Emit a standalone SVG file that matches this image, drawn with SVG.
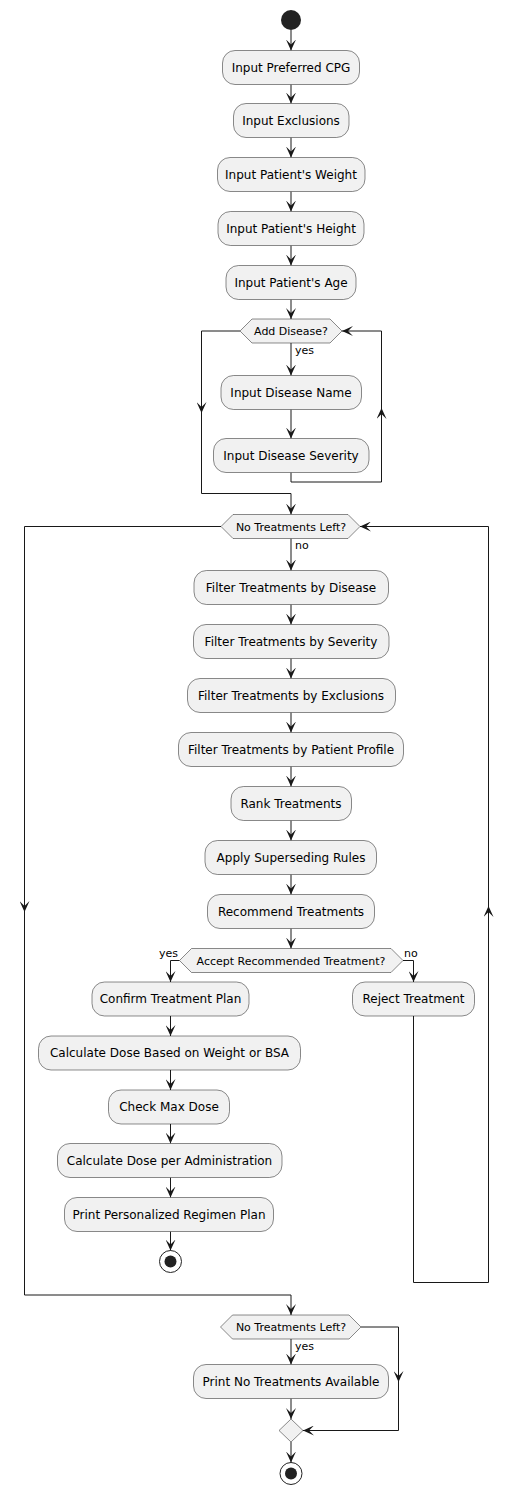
<svg xmlns="http://www.w3.org/2000/svg" width="513" height="1494" viewBox="0 0 513 1494">
<defs>
<style>
.box{fill:#F1F1F1;stroke:#181818;stroke-width:0.5}
.hex{fill:#F1F1F1;stroke:#181818;stroke-width:0.5}
.t{font-family:"DejaVu Sans",Verdana,sans-serif;font-size:12px;fill:#000;text-anchor:middle}
.ht{font-family:"DejaVu Sans",Verdana,sans-serif;font-size:11px;fill:#000;text-anchor:middle}
.lt{font-family:"DejaVu Sans",Verdana,sans-serif;font-size:11px;fill:#000}
.c{fill:none;stroke:#181818;stroke-width:1}
</style>
<marker id="ah" markerUnits="userSpaceOnUse" markerWidth="11" markerHeight="10" refX="11" refY="5" orient="auto">
<path d="M0,0 L11,5 L0,10 L5,5 Z" fill="#181818"/>
</marker>
</defs>
<rect width="513" height="1494" fill="#FFFFFF"/>
<g id="connectors">
<path class="c" d="M291,30 L291,50.5" marker-end="url(#ah)"/>
<path class="c" d="M291,84.5 L291,103.5" marker-end="url(#ah)"/>
<path class="c" d="M291,137.5 L291,157.5" marker-end="url(#ah)"/>
<path class="c" d="M291,191.5 L291,211.5" marker-end="url(#ah)"/>
<path class="c" d="M291,245.5 L291,265.5" marker-end="url(#ah)"/>
<path class="c" d="M291,299.5 L291,319" marker-end="url(#ah)"/>
<path class="c" d="M291,343 L291,375.5" marker-end="url(#ah)"/>
<path class="c" d="M291,409.5 L291,438.5" marker-end="url(#ah)"/>
<path class="c" d="M291,472.5 L291,482 L381.5,482 L381.5,408" marker-end="url(#ah)"/>
<path class="c" d="M381.5,408 L381.5,331 L342,331" marker-end="url(#ah)"/>
<path class="c" d="M240,331 L201.5,331 L201.5,413" marker-end="url(#ah)"/>
<path class="c" d="M201.5,413 L201.5,493.5 L291,493.5 L291,514.5" marker-end="url(#ah)"/>
<path class="c" d="M291,538.5 L291,570.5" marker-end="url(#ah)"/>
<path class="c" d="M291,604.5 L291,624.5" marker-end="url(#ah)"/>
<path class="c" d="M291,658.5 L291,678.5" marker-end="url(#ah)"/>
<path class="c" d="M291,712.5 L291,732.5" marker-end="url(#ah)"/>
<path class="c" d="M291,766.5 L291,786.5" marker-end="url(#ah)"/>
<path class="c" d="M291,820.5 L291,840.5" marker-end="url(#ah)"/>
<path class="c" d="M291,874.5 L291,894.5" marker-end="url(#ah)"/>
<path class="c" d="M291,928.5 L291,948.5" marker-end="url(#ah)"/>
<path class="c" d="M179.5,960.5 L170.5,960.5 L170.5,982" marker-end="url(#ah)"/>
<path class="c" d="M403,960.5 L413.5,960.5 L413.5,982" marker-end="url(#ah)"/>
<path class="c" d="M170.5,1016 L170.5,1036" marker-end="url(#ah)"/>
<path class="c" d="M170.5,1070 L170.5,1090" marker-end="url(#ah)"/>
<path class="c" d="M170.5,1124 L170.5,1143.5" marker-end="url(#ah)"/>
<path class="c" d="M170.5,1177.5 L170.5,1197.5" marker-end="url(#ah)"/>
<path class="c" d="M170.5,1231.5 L170.5,1250.5" marker-end="url(#ah)"/>
<path class="c" d="M413.5,1016 L413.5,1282.5 L488.5,1282.5 L488.5,906" marker-end="url(#ah)"/>
<path class="c" d="M488.5,906 L488.5,526.5 L360,526.5" marker-end="url(#ah)"/>
<path class="c" d="M221,526.5 L24.5,526.5 L24.5,912" marker-end="url(#ah)"/>
<path class="c" d="M24.5,912 L24.5,1295 L291,1295 L291,1315" marker-end="url(#ah)"/>
<path class="c" d="M291,1339 L291,1364.5" marker-end="url(#ah)"/>
<path class="c" d="M361,1327 L398.5,1327 L398.5,1382" marker-end="url(#ah)"/>
<path class="c" d="M398.5,1382 L398.5,1430.5 L303,1430.5" marker-end="url(#ah)"/>
<path class="c" d="M291,1398.5 L291,1419" marker-end="url(#ah)"/>
<path class="c" d="M291,1442 L291,1462.5" marker-end="url(#ah)"/>
<text class="lt" x="295" y="354">yes</text>
<text class="lt" x="295" y="549">no</text>
<text class="lt" x="178" y="957" text-anchor="end">yes</text>
<text class="lt" x="404" y="957">no</text>
<text class="lt" x="295" y="1350">yes</text>
</g>
<g id="start"><circle cx="291" cy="20" r="10" fill="#222222"/></g>
<g id="n1"><rect class="box" x="222.5" y="50.5" width="137" height="34" rx="12.5"/><text class="t" x="291" y="71.5">Input Preferred CPG</text></g>
<g id="n2"><rect class="box" x="233.5" y="103.5" width="115.5" height="34" rx="12.5"/><text class="t" x="291" y="124.5">Input Exclusions</text></g>
<g id="n3"><rect class="box" x="217.5" y="157.5" width="147.5" height="34" rx="12.5"/><text class="t" x="291" y="178.5">Input Patient's Weight</text></g>
<g id="n4"><rect class="box" x="218" y="211.5" width="146" height="34" rx="12.5"/><text class="t" x="291" y="232.5">Input Patient's Height</text></g>
<g id="n5"><rect class="box" x="226" y="265.5" width="130" height="34" rx="12.5"/><text class="t" x="291" y="286.5">Input Patient's Age</text></g>
<g id="d1"><polygon class="hex" points="240,331 252,319 330,319 342,331 330,343 252,343"/><text class="ht" x="291" y="335">Add Disease?</text></g>
<g id="n6"><rect class="box" x="221" y="375.5" width="140.5" height="34" rx="12.5"/><text class="t" x="291" y="396.5">Input Disease Name</text></g>
<g id="n7"><rect class="box" x="213.5" y="438.5" width="155.5" height="34" rx="12.5"/><text class="t" x="291" y="459.5">Input Disease Severity</text></g>
<g id="d2"><polygon class="hex" points="221,526.5 233,514.5 348,514.5 360,526.5 348,538.5 233,538.5"/><text class="ht" x="291" y="530.5">No Treatments Left?</text></g>
<g id="n8"><rect class="box" x="194" y="570.5" width="194.5" height="34" rx="12.5"/><text class="t" x="291" y="591.5">Filter Treatments by Disease</text></g>
<g id="n9"><rect class="box" x="193.5" y="624.5" width="195.5" height="34" rx="12.5"/><text class="t" x="291" y="645.5">Filter Treatments by Severity</text></g>
<g id="n10"><rect class="box" x="187.5" y="678.5" width="208" height="34" rx="12.5"/><text class="t" x="291" y="699.5">Filter Treatments by Exclusions</text></g>
<g id="n11"><rect class="box" x="178.5" y="732.5" width="225" height="34" rx="12.5"/><text class="t" x="291" y="753.5">Filter Treatments by Patient Profile</text></g>
<g id="n12"><rect class="box" x="231" y="786.5" width="120.5" height="34" rx="12.5"/><text class="t" x="291" y="807.5">Rank Treatments</text></g>
<g id="n13"><rect class="box" x="205" y="840.5" width="171.5" height="34" rx="12.5"/><text class="t" x="291" y="861.5">Apply Superseding Rules</text></g>
<g id="n14"><rect class="box" x="207.5" y="894.5" width="167" height="34" rx="12.5"/><text class="t" x="291" y="915.5">Recommend Treatments</text></g>
<g id="d3"><polygon class="hex" points="179.5,960.5 191.5,948.5 391,948.5 403,960.5 391,972.5 191.5,972.5"/><text class="ht" x="291" y="964.5">Accept Recommended Treatment?</text></g>
<g id="n15"><rect class="box" x="92" y="982" width="157" height="34" rx="12.5"/><text class="t" x="170.5" y="1003">Confirm Treatment Plan</text></g>
<g id="n16"><rect class="box" x="352.5" y="982" width="122" height="34" rx="12.5"/><text class="t" x="413.5" y="1003">Reject Treatment</text></g>
<g id="n17"><rect class="box" x="38.5" y="1036" width="262" height="34" rx="12.5"/><text class="t" x="169.5" y="1057">Calculate Dose Based on Weight or BSA</text></g>
<g id="n18"><rect class="box" x="108.5" y="1090" width="121" height="34" rx="12.5"/><text class="t" x="169" y="1111">Check Max Dose</text></g>
<g id="n19"><rect class="box" x="57.5" y="1143.5" width="224.5" height="34" rx="12.5"/><text class="t" x="169.5" y="1164.5">Calculate Dose per Administration</text></g>
<g id="n20"><rect class="box" x="64.5" y="1197.5" width="209" height="34" rx="12.5"/><text class="t" x="169" y="1218.5">Print Personalized Regimen Plan</text></g>
<g id="end1"><circle cx="170.5" cy="1261.5" r="11" fill="none" stroke="#222222" stroke-width="1"/><circle cx="170.5" cy="1261.5" r="6" fill="#222222"/></g>
<g id="d4"><polygon class="hex" points="220.5,1327 232.5,1315 349,1315 361,1327 349,1339 232.5,1339"/><text class="ht" x="291" y="1331">No Treatments Left?</text></g>
<g id="n21"><rect class="box" x="193.5" y="1364.5" width="195" height="34" rx="12.5"/><text class="t" x="291" y="1385.5">Print No Treatments Available</text></g>
<g id="merge"><polygon class="hex" points="291,1419 303,1430.5 291,1442 279,1430.5"/></g>
<g id="end2"><circle cx="291" cy="1473.5" r="11" fill="none" stroke="#222222" stroke-width="1"/><circle cx="291" cy="1473.5" r="6" fill="#222222"/></g>
</svg>
